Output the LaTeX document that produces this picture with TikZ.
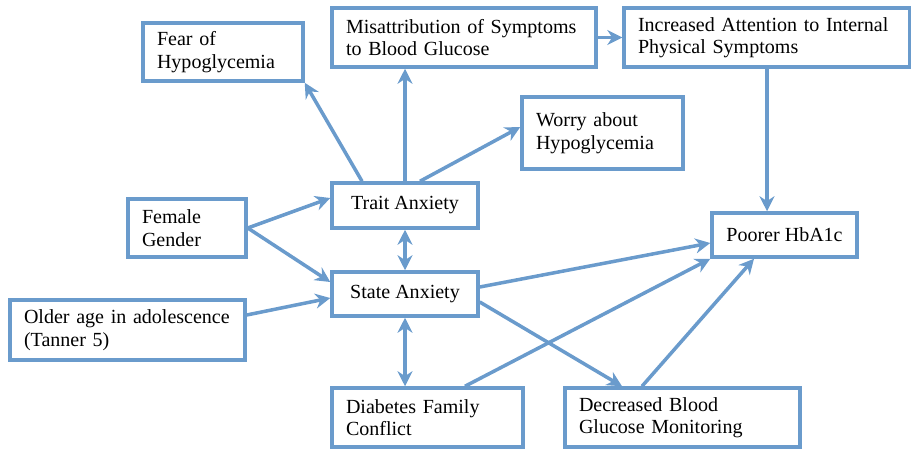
\documentclass[tikz,border=0pt]{standalone}
\usepackage{fontspec}
\setmainfont{Liberation Serif}
\usepackage{tikz}
\usetikzlibrary{arrows.meta,positioning}
\definecolor{boxblue}{RGB}{106,155,204}

\begin{document}
\begin{tikzpicture}[
    x=0.02cm, y=-0.02cm,
    font=\fontsize{11.4}{12.8}\selectfont,
    box/.style={rectangle, draw=boxblue, line width=2pt, fill=white, inner xsep=0.28cm, align=left},
    cbox/.style={box, align=center},
    arrow/.style={-{Stealth[length=0.3cm, width=0.3cm]}, draw=boxblue, line width=2pt},
    darrow/.style={arrow, {Stealth[length=0.3cm, width=0.3cm]}-{Stealth[length=0.3cm, width=0.3cm]}}
]
\useasboundingbox (0,0) rectangle (911,449);

% boxes
\node[box, text width=2.64cm, minimum height=1.16cm] (fear) at (223,52) {Fear of\\Hypoglycemia};
\node[box, text width=4.72cm, minimum height=1.18cm] (misattr) at (464,37.5) {Misattribution of Symptoms\\to Blood Glucose};
\node[box, text width=5.16cm, minimum height=1.18cm] (attn) at (767,37.5) {Increased Attention to Internal\\Physical Symptoms};
\node[box, text width=2.66cm, minimum height=1.44cm] (worry) at (602.5,133) {Worry about\\Hypoglycemia};
\node[cbox, minimum width=2.92cm, minimum height=0.9cm] (trait) at (405,205.5) {Trait Anxiety};
\node[box, text width=1.8cm, minimum height=1.16cm] (female) at (187,228) {Female\\Gender};
\node[cbox, minimum width=2.92cm, minimum height=0.88cm] (state) at (405,294) {State Anxiety};
\node[box, text width=4.14cm, minimum height=1.2cm] (older) at (127.5,330) {Older age in adolescence\\(Tanner 5)};
\node[box, text width=3.26cm, minimum height=1.18cm] (family) at (427.5,417.5) {Diabetes Family\\Conflict};
\node[box, text width=4.14cm, minimum height=1.18cm] (bgm) at (682.5,417.5) {Decreased Blood\\Glucose Monitoring};
\node[cbox, minimum width=2.9cm, minimum height=0.88cm] (hba) at (784.5,235) {Poorer HbA1c};

% connectors
\draw[arrow] ([xshift=-0.86cm]trait.north) -- (fear.south east);
\draw[arrow] (trait.north) -- (trait.north |- misattr.south);
\draw[arrow] ([xshift=0.3cm]trait.north) -- ([yshift=0.12cm]worry.west);
\draw[arrow] (misattr.east) -- (attn.west);
\draw[arrow] (attn.south) -- (attn.south |- hba.north);
\draw[arrow] (female.east) -- ([yshift=0.15cm]trait.west);
\draw[arrow] (female.east) -- ([yshift=0.24cm]state.west);
\draw[arrow] ([yshift=0.3cm]older.east) -- ([yshift=-0.08cm]state.west);
\draw[darrow] (trait.south) -- (state.north);
\draw[darrow] (state.south) -- (state.south |- family.north);
\draw[arrow] ([yshift=0.14cm]state.east) -- ([yshift=-0.16cm]hba.west);
\draw[arrow] ([xshift=0.75cm]family.north) -- (hba.south west);
\draw[arrow] ([yshift=-0.16cm]state.east) -- ([xshift=-1.21cm]bgm.north);
\draw[arrow] ([xshift=-0.81cm]bgm.north) -- ([xshift=-0.61cm]hba.south);
\end{tikzpicture}
\end{document}
